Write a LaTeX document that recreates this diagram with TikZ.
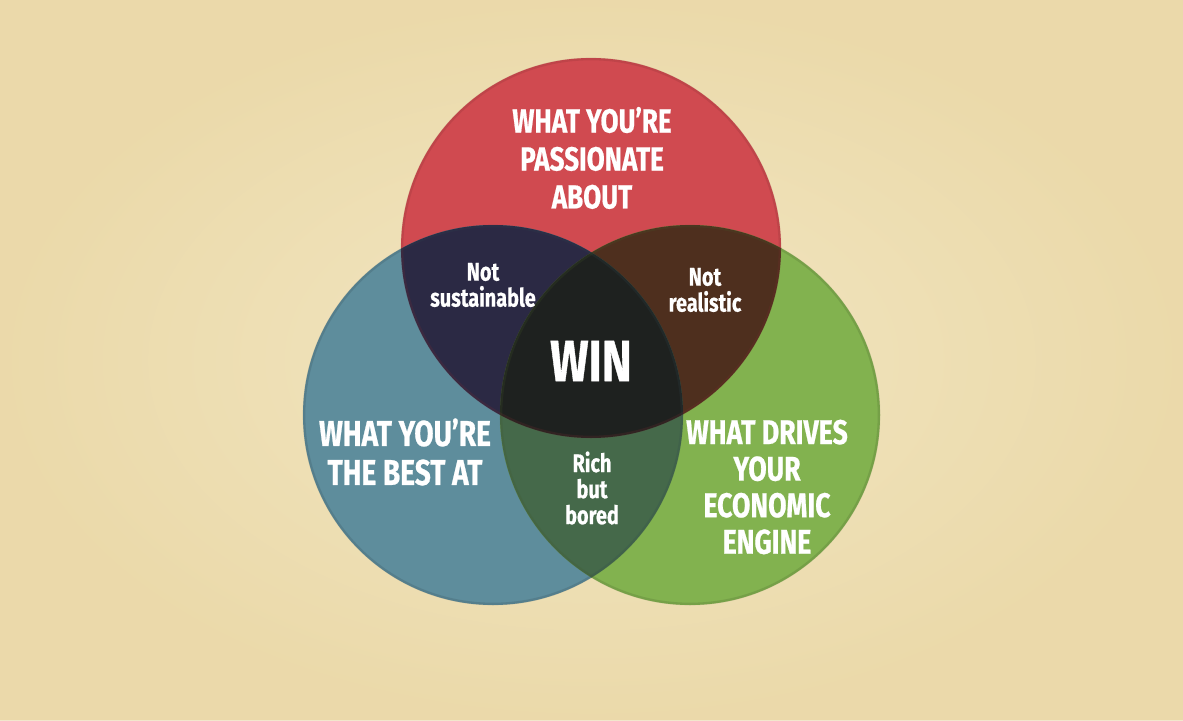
\documentclass[tikz,border=0pt]{standalone}
\usepackage{fontspec}
\setmainfont[FakeStretch=0.78, BoldFeatures={FakeBold=0.6}]{Fira Sans}
\usepackage{xcolor}
\usetikzlibrary{shapes,calc}

\definecolor{paper}{HTML}{F1E4BB}
\definecolor{paperlight}{HTML}{F4EACA}
\definecolor{paperdark}{HTML}{E6D09A}
\definecolor{passred}{HTML}{D04A50}
\definecolor{bestblue}{HTML}{5E8D9C}
\definecolor{enginegreen}{HTML}{82B24F}
\definecolor{navyover}{HTML}{2B2944}
\definecolor{brownover}{HTML}{4E2F1E}
\definecolor{greenover}{HTML}{45694A}
\definecolor{winblack}{HTML}{1E211F}

\tikzset{
  bigtext/.style={text=white, align=center, font=\bfseries\fontsize{19}{21.6}\selectfont},
  smalltext/.style={text=white, align=center, font=\bfseries\fontsize{14.5}{14.8}\selectfont},
  rim/.style={line width=1.5pt, draw opacity=0.2}
}

\begin{document}
\begin{tikzpicture}[x=0.02cm,y=-0.02cm]
        % paper background
        \useasboundingbox (0,0) rectangle (1183,720);
        \fill[paper] (0,0) rectangle (1183,720);
        \shade[inner color=paperlight, outer color=paperdark, opacity=0.5] (0,0) rectangle (1183,720);

        % the three circles
        \coordinate (passion) at (591,248);
        \coordinate (best) at (493,415);
        \coordinate (engine) at (690,415);
        \fill[passred] (passion) circle[radius=190];
        \fill[bestblue] (best) circle[radius=190];
        \fill[enginegreen] (engine) circle[radius=190];

        % overlaps
        \begin{scope}
          \clip (passion) circle[radius=190];
          \fill[navyover] (best) circle[radius=190];
          \fill[brownover] (engine) circle[radius=190];
        \end{scope}
        \begin{scope}
          \clip (best) circle[radius=190];
          \fill[greenover] (engine) circle[radius=190];
          \clip (passion) circle[radius=190];
          \fill[winblack] (engine) circle[radius=190];
        \end{scope}

        % darker rims
        \draw[rim,passred!60!black] (passion) circle[radius=189];
        \draw[rim,bestblue!50!black] (best) circle[radius=189];
        \draw[rim,enginegreen!50!black] (engine) circle[radius=189];

        % labels
        \node[bigtext] (passionlbl) at (592,158) {WHAT YOU’RE\\PASSIONATE\\ABOUT};
        \node[bigtext, font=\bfseries\fontsize{20.5}{22.2}\selectfont] (bestlbl) at (405,452) {WHAT YOU’RE\\THE BEST AT};
        \node[bigtext, font=\bfseries\fontsize{19.5}{20.8}\selectfont] (enginelbl) at (767,487) {WHAT DRIVES\\YOUR\\ECONOMIC\\ENGINE};
        \node[smalltext] (sustlbl) at (483,285) {Not\\sustainable};
        \node[smalltext] (reallbl) at (705,290) {Not\\realistic};
        \node[smalltext] (richlbl) at (592,488) {Rich\\but\\bored};
        \node[text=white, font=\bfseries\fontsize{33}{36}\selectfont] (winlbl) at (591,361) {WIN};
      \end{tikzpicture}
\end{document}
